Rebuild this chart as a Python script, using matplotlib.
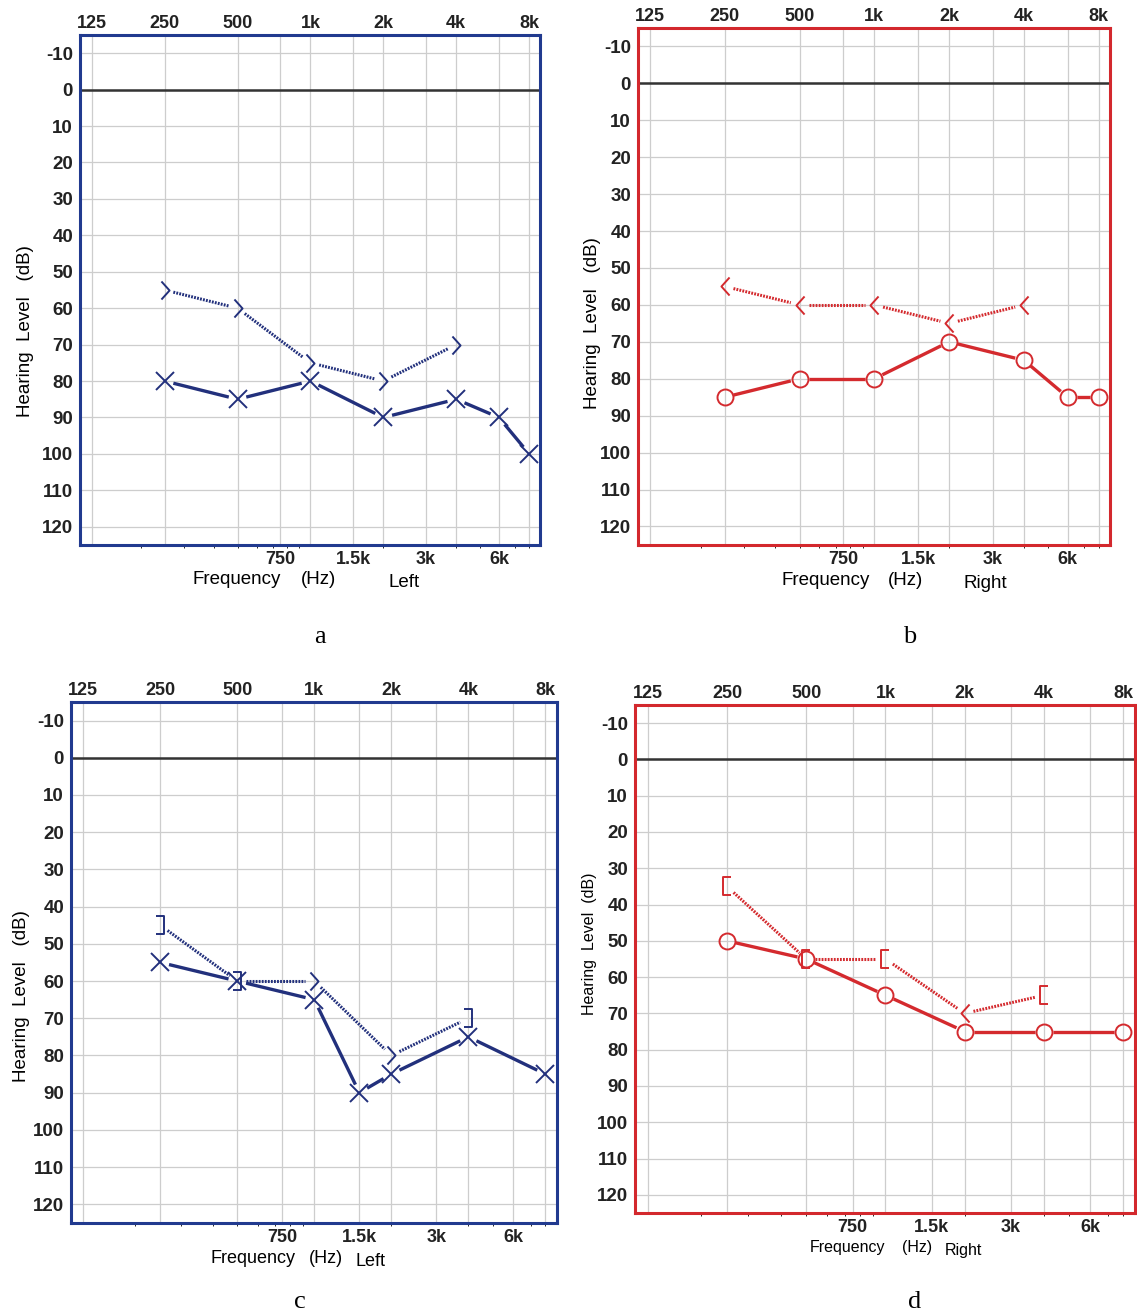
import numpy as np
import matplotlib.pyplot as plt
from matplotlib.path import Path

plt.rcParams['font.family'] = ['Liberation Sans', 'DejaVu Sans']

# audiogram readings (Hz, dB HL)
top_freqs = [125, 250, 500, 1000, 2000, 4000, 8000]
top_labels = ['125', '250', '500', '1k', '2k', '4k', '8k']
mid_freqs = [750, 1500, 3000, 6000]
mid_labels = ['750', '1.5k', '3k', '6k']
db_levels = list(range(-10, 121, 10))

a_air_f = [250, 500, 1000, 2000, 4000, 6000, 8000]
a_air_db = [80, 85, 80, 90, 85, 90, 100]
a_bone_f = [250, 500, 1000, 2000, 4000]
a_bone_db = [55, 60, 75, 80, 70]
a_bone_sym = ['>', '>', '>', '>', '>']

b_air_f = [250, 500, 1000, 2000, 4000, 6000, 8000]
b_air_db = [85, 80, 80, 70, 75, 85, 85]
b_bone_f = [250, 500, 1000, 2000, 4000]
b_bone_db = [55, 60, 60, 65, 60]
b_bone_sym = ['<', '<', '<', '<', '<']

c_air_f = [250, 500, 1000, 1500, 2000, 4000, 8000]
c_air_db = [55, 60, 65, 90, 85, 75, 85]
c_bone_f = [250, 500, 1000, 2000, 4000]
c_bone_db = [45, 60, 60, 80, 70]
c_bone_sym = [']', ']', '>', '>', ']']

d_air_f = [250, 500, 1000, 2000, 4000, 8000]
d_air_db = [50, 55, 65, 75, 75, 75]
d_bone_f = [250, 500, 1000, 2000, 4000]
d_bone_db = [35, 55, 55, 70, 65]
d_bone_sym = ['[', '[', '[', '<', '[']

BLUE = '#22307c'
BLUE_FRAME = '#213a8f'
RED = '#d42a2e'
RED_FRAME = '#d3282d'

MV, LT = Path.MOVETO, Path.LINETO
SYMS = {
    '>': Path([(-0.45, 1), (0.45, 0), (-0.45, -1)], [MV, LT, LT]),
    '<': Path([(0.45, 1), (-0.45, 0), (0.45, -1)], [MV, LT, LT]),
    ']': Path([(-0.45, 1), (0.45, 1), (0.45, -1), (-0.45, -1)], [MV, LT, LT, LT]),
    '[': Path([(0.45, 1), (-0.45, 1), (-0.45, -1), (0.45, -1)], [MV, LT, LT, LT]),
}


def gapped_line(ax, xs, ys, gap, **kw):
    # draw the joining line but stop short of each symbol, like on a printed audiogram
    tr = ax.transData
    pts = tr.transform(np.column_stack([xs, ys]))
    for p, q in zip(pts[:-1], pts[1:]):
        d = q - p
        n = np.hypot(*d)
        if n <= 2 * gap:
            continue
        u = d / n
        seg = tr.inverted().transform([p + u * gap, q - u * gap])
        ax.plot(seg[:, 0], seg[:, 1], solid_capstyle='butt', **kw)


def panel(rect, frame_col, col, air_f, air_db, air_marker, bone_f, bone_db, bone_sym,
          ear, txt_x, ylab_xy, ylab_fs=13.5, xlab_fs=13.5, ylab='Hearing  Level   (dB)'):
    ax = fig.add_axes(rect)
    ax.set_xscale('log', base=2)
    ax.set_xlim(125 * 2 ** -0.16, 125 * 2 ** 6.15)
    ax.set_ylim(125, -15)
    ax.minorticks_off()
    for f in top_freqs + mid_freqs:
        ax.axvline(f, color='#cdcdcd', lw=0.9, zorder=1)
    for v in db_levels:
        ax.axhline(v, color='#cdcdcd', lw=0.9, zorder=1)
    ax.axhline(0, color='#333333', lw=1.8, zorder=2)

    ax.xaxis.tick_top()
    ax.set_xticks(top_freqs)
    ax.set_xticklabels(top_labels, fontsize=13, fontweight='bold', color='#222222')
    ax.set_yticks(db_levels)
    ax.set_yticklabels([str(v) for v in db_levels], fontsize=13.5, fontweight='bold',
                       color='#222222')
    ax.tick_params(axis='y', length=0, pad=5)
    ax.tick_params(axis='x', length=0, pad=2)
    sec = ax.secondary_xaxis('bottom')
    sec.set_xticks(mid_freqs)
    sec.set_xticklabels(mid_labels, fontsize=13, fontweight='bold', color='#222222')
    sec.tick_params(length=0, pad=4)
    sec.spines['bottom'].set_visible(False)
    for s in ax.spines.values():
        s.set_color(frame_col)
        s.set_linewidth(2.2)

    fig.canvas.draw()
    gapped_line(ax, air_f, air_db, 9, color=col, lw=2.4, zorder=3)
    gapped_line(ax, bone_f, bone_db, 9, color=col, lw=2.2, ls=(0, (0.6, 0.4)), zorder=3)
    ax.plot(air_f, air_db, ls='none', marker=air_marker, ms=13 if air_marker == 'x' else 11.5,
            mew=1.4, mfc='none', mec=col, zorder=4, clip_on=False)
    for f, v, s in zip(bone_f, bone_db, bone_sym):
        ax.plot([f], [v], ls='none', marker=SYMS[s], ms=13, mew=1.4, mfc='none', mec=col,
                zorder=4)

    ty = -0.068
    ax.text(txt_x[0], ty, 'Frequency', transform=ax.transAxes, fontsize=xlab_fs,
            ha='left', va='center')
    ax.text(txt_x[1], ty, '(Hz)', transform=ax.transAxes, fontsize=xlab_fs,
            ha='left', va='center')
    ax.text(txt_x[2], ty - 0.006, ear, transform=ax.transAxes, fontsize=xlab_fs,
            ha='left', va='center')
    ax.set_ylabel(ylab, fontsize=ylab_fs)
    ax.yaxis.set_label_coords(*ylab_xy)
    return ax


fig = plt.figure(figsize=(11.37, 13.16), dpi=100)

panel([0.0704, 0.5859, 0.4046, 0.3875], BLUE_FRAME, BLUE, a_air_f, a_air_db, 'x',
      a_bone_f, a_bone_db, a_bone_sym, 'Left', [0.245, 0.48, 0.67], (-0.10, 0.42))
panel([0.5611, 0.5859, 0.4151, 0.3929], RED_FRAME, RED, b_air_f, b_air_db, 'o',
      b_bone_f, b_bone_db, b_bone_sym, 'Right', [0.304, 0.53, 0.69], (-0.078, 0.43))
panel([0.0624, 0.0707, 0.4274, 0.3959], BLUE_FRAME, BLUE, c_air_f, c_air_db, 'x',
      c_bone_f, c_bone_db, c_bone_sym, 'Left', [0.288, 0.49, 0.585], (-0.084, 0.436),
      xlab_fs=13)
panel([0.5585, 0.0783, 0.4398, 0.3860], RED_FRAME, RED, d_air_f, d_air_db, 'o',
      d_bone_f, d_bone_db, d_bone_sym, 'Right', [0.35, 0.534, 0.62], (-0.076, 0.53),
      ylab_fs=11.5, xlab_fs=11.5, ylab='Hearing  Level  (dB)')

for lab, x, y in [('a', 320, 637), ('b', 910, 637), ('c', 300, 1302), ('d', 915, 1302)]:
    fig.text(x / 1137, 1 - y / 1316, lab, fontsize=19, family='Liberation Serif',
             ha='center', va='center')

fig.savefig('out.png', dpi=100, facecolor='white')
